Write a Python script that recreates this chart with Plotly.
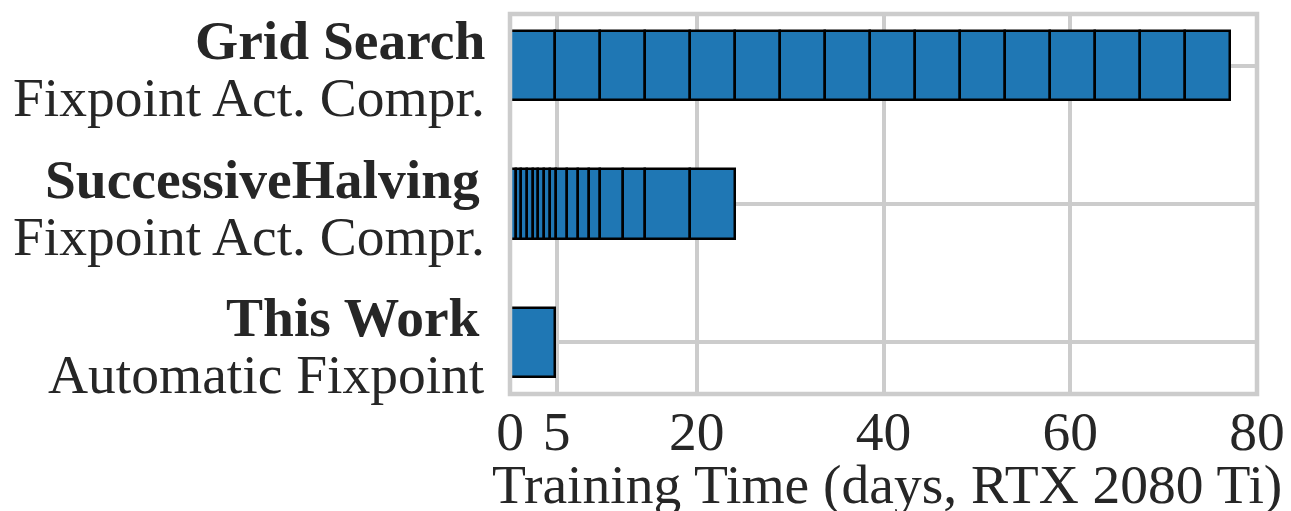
import numpy as np
import plotly.graph_objects as go

# ---- data (days on one RTX 2080 Ti) ----
row_bold = ["Grid Search", "SuccessiveHalving", "This Work"]
row_sub = ["Fixpoint Act. Compr.", "Fixpoint Act. Compr.", "Automatic Fixpoint"]

grid_search_runs = [4.82, 4.82, 4.82, 4.82, 4.82, 4.82, 4.82, 4.82,
                    4.82, 4.82, 4.82, 4.82, 4.82, 4.82, 4.82, 4.82]
successive_halving_runs = [0.61, 0.61, 0.61, 0.61, 0.61, 0.61, 0.61, 0.61,
                           1.20, 1.20, 1.20, 1.20,
                           2.41, 2.41,
                           4.81, 4.81]
this_work_runs = [4.82]

x_tick_vals = [0, 5, 20, 40, 60, 80]
x_tick_text = ["0", "5", "20", "40", "60", "80"]
x_title = "Training Time (days, RTX 2080 Ti)"

rows = [grid_search_runs, successive_halving_runs, this_work_runs]

FONT = "Liberation Serif"
FS = 55.5
BLUE = "#1f77b4"
GRID = "#cccccc"
TXT = "#262626"

fig = go.Figure()
for i, runs in enumerate(rows):
    widths = np.array(runs, dtype=float)
    bases = np.concatenate([[0.0], np.cumsum(widths)[:-1]])
    fig.add_trace(go.Bar(
        x=widths, base=bases, y=[i] * len(widths), orientation="h",
        width=0.5,
        marker=dict(color=BLUE, line=dict(color="black", width=2.5)),
        showlegend=False, hoverinfo="x",
    ))

bold_xshift = [-23, -28, -28]
for i in range(3):
    fig.add_annotation(x=0, xref="paper", y=i, yref="y", xanchor="right", yanchor="middle",
                       xshift=bold_xshift[i], yshift=25, showarrow=False,
                       text="<b>" + row_bold[i] + "</b>",
                       font=dict(family=FONT, size=FS, color=TXT))
    fig.add_annotation(x=0, xref="paper", y=i, yref="y", xanchor="right", yanchor="middle",
                       xshift=-23, yshift=-32, showarrow=False,
                       text=row_sub[i],
                       font=dict(family=FONT, size=FS, color=TXT))

# x-axis title
fig.add_annotation(x=0.5, xref="paper", y=0, yref="paper", xanchor="center", yanchor="top",
                   xshift=3, yshift=-58, showarrow=False, text=x_title,
                   font=dict(family=FONT, size=FS, color=TXT))

# frame (spines) centred on the plot-area edges
fig.add_shape(type="rect", xref="paper", yref="paper", x0=0, x1=1, y0=0, y1=1,
              line=dict(color=GRID, width=4.5), layer="above")

fig.update_layout(
    width=1291, height=511,
    margin=dict(l=502, r=42, t=6, b=125),
    paper_bgcolor="white", plot_bgcolor="white",
    barmode="overlay", bargap=0,
    font=dict(family=FONT, size=FS, color=TXT),
    xaxis=dict(
        range=[0, 80], tickvals=x_tick_vals, ticktext=x_tick_text,
        showgrid=True, gridcolor=GRID, gridwidth=3.5,
        showline=False, zeroline=False, ticks="", ticklabelstandoff=-1,
        automargin=False,
        tickfont=dict(family=FONT, size=FS, color=TXT),
    ),
    yaxis=dict(
        range=[2.375, -0.375], tickvals=[0, 1, 2], showticklabels=False,
        showgrid=True, gridcolor=GRID, gridwidth=3.5,
        showline=False, zeroline=False, ticks="", automargin=False,
    ),
)

fig.write_html("out.html")
